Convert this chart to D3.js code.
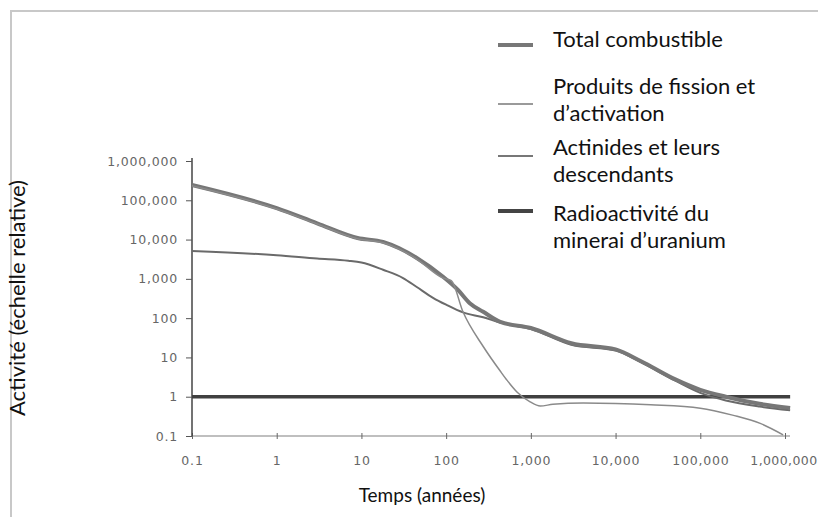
<!DOCTYPE html>
<html>
<head>
<meta charset="utf-8">
<script src="https://cdn.jsdelivr.net/npm/d3@7"></script>
<style>
  html, body { margin: 0; padding: 0; background: #fff; }
  svg { display: block; }
</style>
</head>
<body>
<svg id="chart" width="818" height="517"></svg>
<script>
// ---- Data ----
const xTickValues = [0.1, 1, 10, 100, 1000, 10000, 100000, 1000000];
const xTickLabels = ["0.1", "1", "10", "100", "1,000", "10,000", "100,000", "1,000,000"];
const yTickValues = [0.1, 1, 10, 100, 1000, 10000, 100000, 1000000];
const yTickLabels = ["0.1", "1", "10", "100", "1,000", "10,000", "100,000", "1,000,000"];

// Total combustible
const totalTime  = [0.1, 1, 3, 9, 18, 28, 45, 92, 137, 190, 274, 435, 1000, 3000, 10000, 20000, 50000, 100000, 200000, 500000, 1150000];
const totalValue = [245000, 63000, 26000, 11000, 8700, 6000, 3400, 1130, 530, 240, 145, 80, 56, 23, 16, 8, 2.8, 1.5, 1.0, 0.66, 0.52];

// Produits de fission et d'activation
const fissionTime  = [0.1, 1, 3, 9, 18, 28, 45, 92, 115, 158, 274, 435, 525, 690, 980, 1290, 1820, 4150, 26000, 100000, 240000, 510000, 950000];
const fissionValue = [235000, 60000, 25000, 10500, 8300, 5700, 3200, 1050, 900, 145, 19, 4.5, 2.6, 1.3, 0.74, 0.58, 0.64, 0.69, 0.62, 0.51, 0.34, 0.21, 0.107];

// Actinides et leurs descendants
const actinideTime  = [0.1, 1, 3, 7, 10, 18, 31, 45, 70, 100, 158, 274, 435, 1000, 3000, 10000, 20000, 50000, 100000, 200000, 500000, 1150000];
const actinideValue = [5100, 4000, 3300, 2900, 2600, 1700, 1050, 620, 330, 220, 140, 105, 77, 53, 21, 15, 7.5, 2.6, 1.25, 0.8, 0.56, 0.45];

// Radioactivité du minerai d'uranium
const uraniumTime  = [0.1, 1150000];
const uraniumValue = [1, 1];

const legendLabels = [
  ["Total combustible"],
  ["Produits de fission et", "d\u2019activation"],
  ["Actinides et leurs", "descendants"],
  ["Radioactivit\u00e9 du", "minerai d\u2019uranium"]
];
const xTitle = "Temps (ann\u00e9es)";
const yTitle = "Activit\u00e9 (\u00e9chelle relative)";

// ---- Drawing ----
const svg = d3.select("#chart");
const x = d3.scaleLog().domain([0.1, 1000000]).range([192, 785]);
const y = d3.scaleLog().domain([0.1, 1000000]).range([436, 161]);

// frame
svg.append("line").attr("x1", 10).attr("x2", 818).attr("y1", 11).attr("y2", 11)
  .attr("stroke", "#c8c8c8").attr("stroke-width", 2);
svg.append("line").attr("x1", 11).attr("x2", 11).attr("y1", 11).attr("y2", 517)
  .attr("stroke", "#c8c8c8").attr("stroke-width", 2);

const tickFont = "'DejaVu Sans', Verdana, sans-serif";
const textFont = "Lato, 'Open Sans', sans-serif";

// x axis
const xAxis = d3.axisBottom(x).tickValues(xTickValues)
  .tickFormat((d, i) => xTickLabels[i]).tickSize(4).tickPadding(16);
const gx = svg.append("g").attr("transform", "translate(0,436)").call(xAxis);
gx.select(".domain").attr("stroke", "#aaa").attr("stroke-width", 1.5).attr("d", "M192,0H790");
gx.selectAll(".tick line").attr("stroke", "#666").attr("y1", -3).attr("y2", 3);
gx.selectAll(".tick text").attr("fill", "#666").style("font-family", tickFont)
  .style("font-size", "12.5px").style("letter-spacing", "0.8px");
// keep the last label inside the picture
gx.selectAll(".tick text").filter(d => d === 1000000)
  .style("letter-spacing", "0.4px").attr("text-anchor", "end").attr("x", 32);

// y axis
const yAxis = d3.axisLeft(y).tickValues(yTickValues)
  .tickFormat((d, i) => yTickLabels[i]).tickSize(6).tickPadding(8);
const gy = svg.append("g").attr("transform", "translate(192,0)").call(yAxis);
gy.select(".domain").attr("stroke", "#444").attr("stroke-width", 1.5).attr("d", "M0,158V436");
gy.selectAll(".tick line").attr("stroke", "#555");
gy.selectAll(".tick text").attr("fill", "#666").style("font-family", tickFont)
  .style("font-size", "12.5px").style("letter-spacing", "0.8px");

// lines
const line = d3.line().x(d => x(d[0])).y(d => y(d[1])).curve(d3.curveMonotoneX);
const zip = (a, b) => a.map((v, i) => [v, b[i]]);

svg.append("path").datum(zip(uraniumTime, uraniumValue)).attr("d", line)
  .attr("fill", "none").attr("stroke", "#404040").attr("stroke-width", 3.5);
svg.append("path").datum(zip(actinideTime, actinideValue)).attr("d", line)
  .attr("fill", "none").attr("stroke", "#6a6a6a").attr("stroke-width", 2);
svg.append("path").datum(zip(totalTime, totalValue)).attr("d", line)
  .attr("fill", "none").attr("stroke", "#777").attr("stroke-width", 4);
svg.append("path").datum(zip(fissionTime, fissionValue)).attr("d", line)
  .attr("fill", "none").attr("stroke", "#8a8a8a").attr("stroke-width", 1.5);

// legend
const legY = [45, 104, 156, 211];
const legStroke = ["#777", "#9a9a9a", "#777", "#444"];
const legWidth = [4, 2, 2, 4];
const textBase = [[47], [94, 121], [155, 182], [221, 248]];
legendLabels.forEach((lines, i) => {
  svg.append("line").attr("x1", 498).attr("x2", 533).attr("y1", legY[i]).attr("y2", legY[i])
    .attr("stroke", legStroke[i]).attr("stroke-width", legWidth[i]);
  lines.forEach((t, j) => {
    svg.append("text").attr("x", 553).attr("y", textBase[i][j]).text(t)
      .attr("fill", "#111").style("font-family", textFont).style("font-size", "22px");
  });
});

// axis titles
svg.append("text").attr("x", 422).attr("y", 502).attr("text-anchor", "middle")
  .text(xTitle).style("font-family", textFont).style("font-size", "19px").attr("fill", "#111");
svg.append("text").attr("transform", "translate(25,298) rotate(-90)").attr("text-anchor", "middle")
  .text(yTitle).style("font-family", textFont).style("font-size", "22px").attr("fill", "#111");
</script>
</body>
</html>
